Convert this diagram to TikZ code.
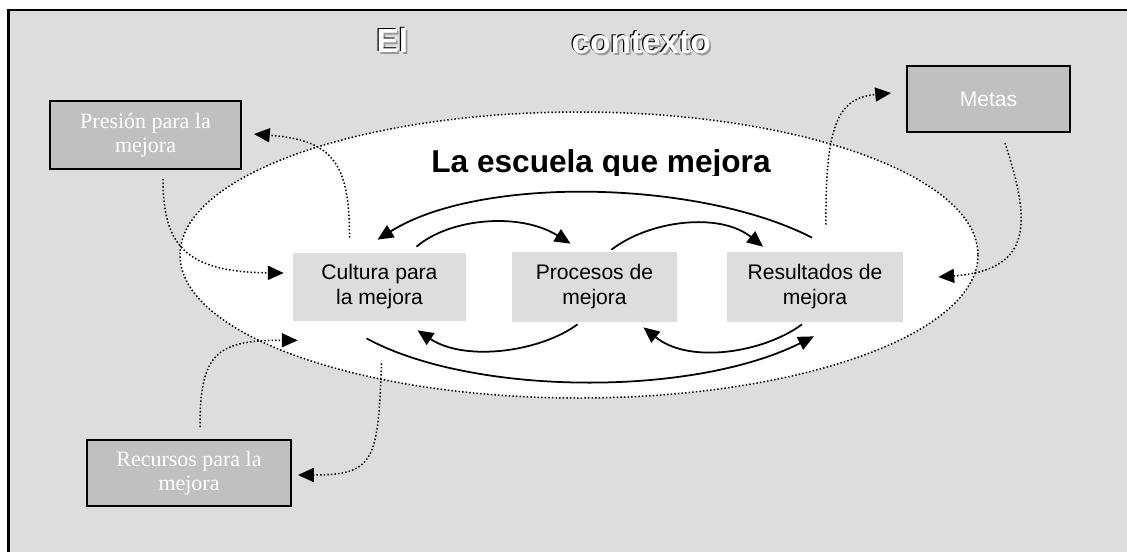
\documentclass[tikz,border=0pt]{standalone}
\usepackage{fontspec}
\setmainfont{Liberation Serif}
\setsansfont{Liberation Sans}
\usetikzlibrary{arrows.meta,calc}
\definecolor{fondo}{HTML}{DDDDDD}
\definecolor{caja}{HTML}{C0C0C0}
\definecolor{sombra}{HTML}{9A9A9A}

\begin{document}
\begin{tikzpicture}[x=0.02cm,y=-0.02cm,
	factor/.style={fill=caja, draw=black, line width=1.1pt, text=white, align=center, inner sep=0pt,
		font=\fontsize{12.5}{13.5}\selectfont},
	etapa/.style={fill=fondo, align=center, inner sep=0pt, font=\sffamily\fontsize{12}{14.2}\selectfont},
	titulo/.style={anchor=base west, inner sep=0pt, font=\sffamily\bfseries\fontsize{19}{19}\selectfont},
	flujo/.style={line width=1pt, -{Triangle[length=9pt,width=8pt]}},
	enlace/.style={line width=0.85pt, dash pattern=on 0.85pt off 1.2pt, -{Triangle[length=9pt,width=8pt]}}]
	\useasboundingbox (0,0) rectangle (1127,552);
	\fill[fondo] (8.5,10) rectangle (1127,552);
	\draw[line width=1.2pt] (8.5,552) -- (8.5,10) -- (1127,10);
	% titulo con sombra
	\foreach \dx/\dy/\tono in {3/3/sombra, 0/0/black}
	{
		\node[titulo, text=\tono] at (375+\dx,51+\dy) {El};
		\node[titulo, text=\tono] at (570+\dx,52+\dy) {contexto};
	}
	\node[titulo, text=white] (el) at (376.2,52.2) {El};
	\node[titulo, text=white] (contexto) at (571.2,53.2) {contexto};
	% la escuela
	\draw[line width=0.85pt, dash pattern=on 0.85pt off 1.2pt, fill=white] (579,255) ellipse [x radius=399, y radius=143];
	\begin{scope}
		\clip (0,0) rectangle (1127,175);
		\node[anchor=base, inner sep=0pt, font=\sffamily\bfseries\fontsize{18}{18}\selectfont] (escuela) at (601,172) {La escuela que mejora};
	\end{scope}
	\node[etapa, minimum width=3.46cm, minimum height=1.36cm] (cultura) at (379.5,287) {Cultura para\\la mejora};
	\node[etapa, minimum width=3.3cm, minimum height=1.4cm] (procesos) at (594.5,287) {Procesos de\\mejora};
	\node[etapa, minimum width=3.52cm, minimum height=1.4cm] (resultados) at (815,287) {Resultados de\\mejora};
	% factores
	\node[factor, minimum width=3.82cm, minimum height=1.36cm] (presion) at (145.5,135) {Presión para la\\mejora};
	\node[factor, minimum width=3.26cm, minimum height=1.32cm, font=\sffamily\fontsize{12}{13}\selectfont] (metas) at (988.5,99) {Metas};
	\node[factor, minimum width=4.08cm, minimum height=1.32cm] (recursos) at (189,473) {Recursos para la\\mejora};
	% flujos internos
	\draw[flujo] ($(resultados.north)+(-3,-14)$) .. controls (700,180) and (480,175) .. ($(cultura.north)+(-2,-13)$);
	\draw[flujo] ($(cultura.north)+(37,-6)$) .. controls (450,218) and (520,212) .. ($(procesos.north)+(-24,-8)$);
	\draw[flujo] ($(procesos.north)+(17,-2)$) .. controls (650,220) and (720,212) .. ($(resultados.north)+(-52,-5)$);
	\draw[flujo] ($(procesos.south)+(-17,2)$) .. controls (540,352) and (465,362) .. ($(cultura.south)+(38,9)$);
	\draw[flujo] ($(resultados.south)+(-13,2)$) .. controls (765,352) and (690,365) .. ($(procesos.south)+(49,5)$);
	\draw[flujo] ($(cultura.south)+(-13,17)$) .. controls (470,395) and (690,398) .. ($(resultados.south)+(-1,14)$);
	% enlaces con el contexto
	\draw[enlace] ($(presion.south)+(17.5,9)$) .. controls (163,245) and (185,272) .. ($(cultura.west)+(-9,-14)$);
	\draw[enlace] ($(cultura.north)+(-30,-15)$) .. controls (350,160) and (330,140) .. ($(presion.east)+(12,-1)$);
	\draw[enlace] ($(resultados.north)+(11,-27)$) .. controls (825,120) and (840,98) .. ($(metas.west)+(-15,-6)$);
	\draw[enlace] ($(metas.south)+(16.5,10)$) .. controls (1030,220) and (1035,270) .. ($(resultados.east)+(35,-10)$);
	\draw[enlace] ($(recursos.north)+(11,-12)$) .. controls (200,355) and (215,340) .. ($(cultura.south west)+(5,19)$);
	\draw[enlace] ($(cultura.south)+(2,42)$) .. controls (378,460) and (375,475) .. ($(recursos.east)+(6,2)$);
\end{tikzpicture}
\end{document}
